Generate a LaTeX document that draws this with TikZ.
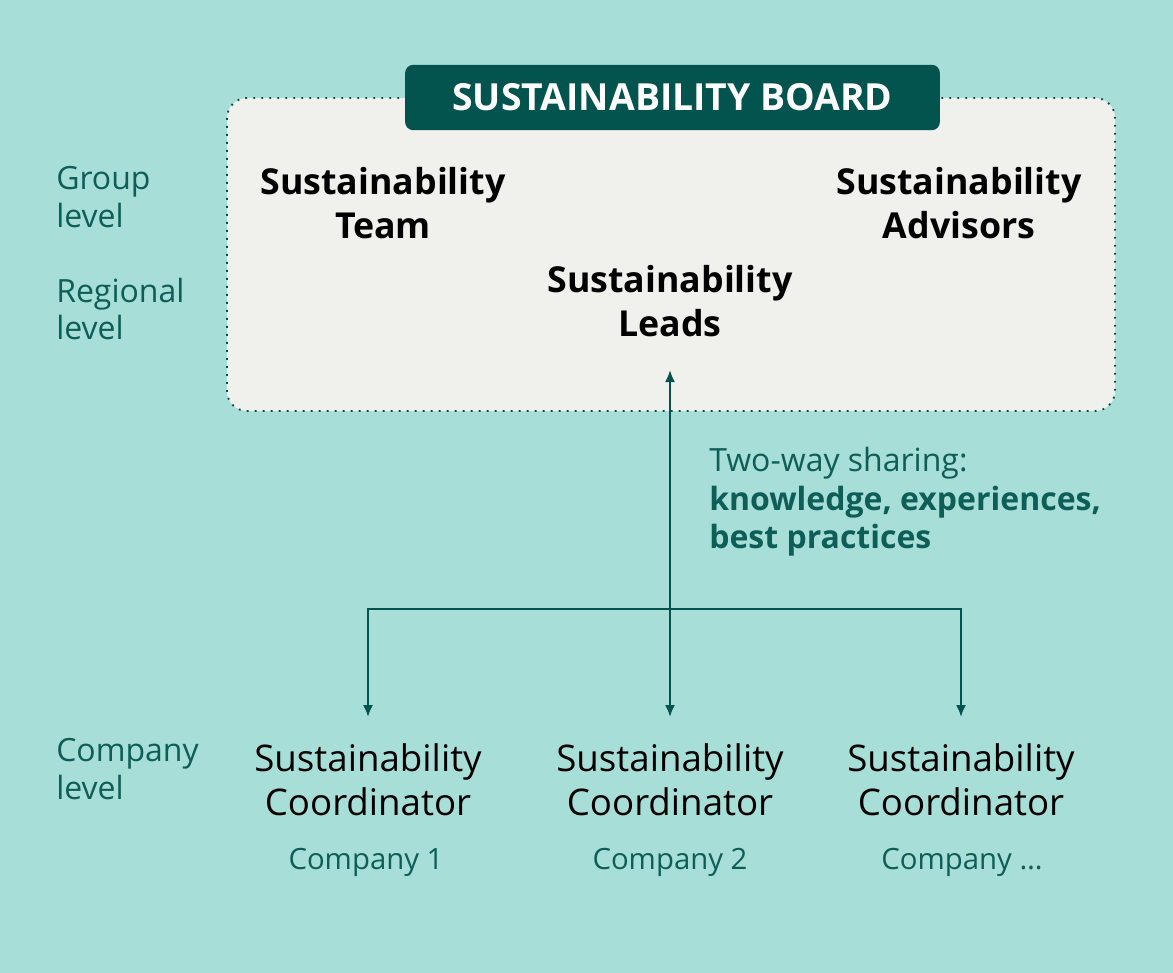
\documentclass[tikz,border=0pt]{standalone}
\usepackage{fontspec}
\setmainfont{Open Sans}
\usepackage{xcolor}
\usetikzlibrary{arrows.meta}

\definecolor{bgteal}{HTML}{A8DED8}
\definecolor{boxgrey}{HTML}{F0F0EC}
\definecolor{darkteal}{HTML}{03534F}
\definecolor{txtteal}{HTML}{0E5E58}

\tikzset{
  head/.style={align=center, inner sep=0pt, font=\fontsize{26.8}{32.5}\selectfont\bfseries},
  coord/.style={align=center, anchor=north, inner xsep=0pt, inner ysep=20pt, font=\fontsize{27.5}{32.5}\selectfont},
  company/.style={txtteal, inner sep=0pt, font=\fontsize{22}{26}\selectfont},
  level/.style={txtteal, align=left, anchor=west, inner sep=0pt, font=\fontsize{24}{28}\selectfont},
  flow/.style={darkteal, line width=1.5pt, -{Latex[length=9pt,width=7.5pt]}}
}

\begin{document}
\begin{tikzpicture}[x=0.75pt,y=0.75pt,yscale=-1,xscale=1]

\useasboundingbox (0,0) rectangle (1173,973);
\fill[bgteal] (0,0) rectangle (1173,973);

% group / regional frame
\draw[darkteal, line width=1.4pt, dash pattern=on 1.4pt off 4.6pt, fill=boxgrey, rounded corners=15pt] (227,98) rectangle (1115,411);

\node[fill=darkteal, rounded corners=6pt, minimum width=401pt, minimum height=49pt, text=white, font=\fontsize{28}{32}\selectfont\bfseries] (board) at (672.5,97.5) {SUSTAINABILITY BOARD};

\node[head] (team) at (383,203) {Sustainability\\Team};
\node[head] (advisors) at (959,203) {Sustainability\\Advisors};
\node[head, anchor=south, inner ysep=25pt] (leads) at (670,370) {Sustainability\\Leads};

% levels
\node[level] (group) at (56,197) {Group\\level};
\node[level] (regional) at (56,309) {Regional\\level};
\node[level] (companylvl) at (56,769) {Company\\level};

% company level
\node[coord] (c1) at (368,717) {Sustainability\\Coordinator};
\node[coord] (c2) at (670,717) {Sustainability\\Coordinator};
\node[coord] (c3) at (961,717) {Sustainability\\Coordinator};

\node[company] (n1) at (366,862) {Company 1};
\node[company] (n2) at (670,862) {Company 2};
\node[company] (n3) at (962,862) {Company \dots};

% sharing
\coordinate (split) at (670,609);
\draw[flow, {Latex[length=9pt,width=7.5pt]}-{Latex[length=9pt,width=7.5pt]}] (leads.south) -- (c2.north);
\draw[flow] (split) -| (c1.north);
\draw[flow] (split) -| (c3.north);

\node[txtteal, align=left, anchor=west, inner sep=0pt, font=\fontsize{24}{28.8}\selectfont] (sharing) at (709,502) {Two-way sharing:\\\textbf{knowledge, experiences,}\\\textbf{best practices}};

\end{tikzpicture}
\end{document}
